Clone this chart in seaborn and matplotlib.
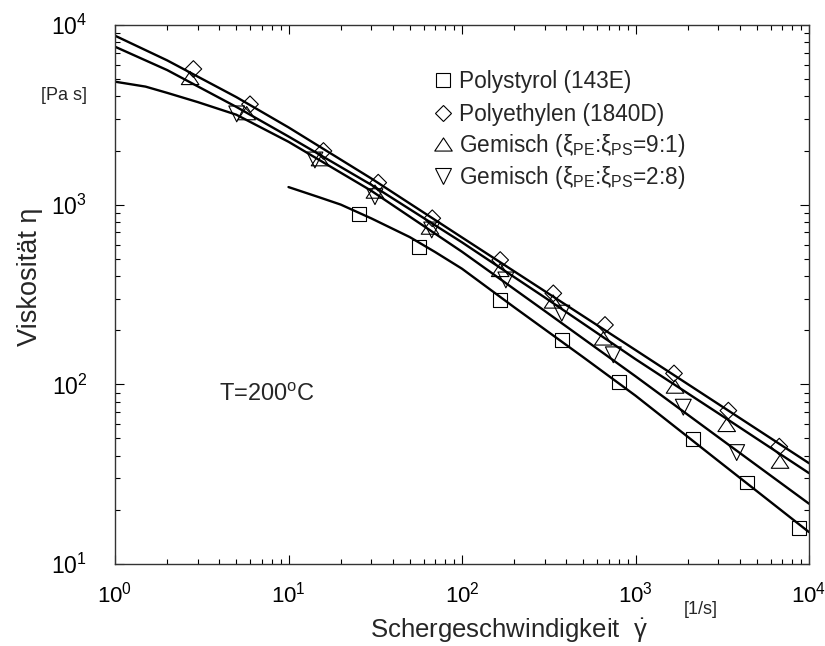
import numpy as np
import pandas as pd
import matplotlib
matplotlib.use("Agg")
import matplotlib.pyplot as plt
import seaborn as sns
from matplotlib.lines import Line2D
from matplotlib.path import Path
from matplotlib.markers import MarkerStyle

# ---------------- data ----------------
# measured points
ps_x = [25.5, 56.5, 166, 376, 803, 2140, 4380, 8790]
ps_y = [888, 579, 295, 177, 103.5, 49.5, 28.4, 15.8]

pe_x = [2.83, 6.0, 15.9, 32.9, 67.4, 166, 336, 667, 1667, 3430, 6740]
pe_y = [5690, 3620, 1990, 1326, 840, 492, 321, 214, 115, 71.4, 45.0]

m91_x = [2.71, 5.74, 15.2, 31.5, 65.4, 166, 335, 652, 1690, 3355, 6810]
m91_y = [5070, 3230, 1790, 1182, 745, 433, 289, 180, 97.1, 59.4, 37.1]

m28_x = [5.03, 14.2, 31.5, 66.9, 179, 376, 745, 1886, 3830]
m28_y = [3200, 1773, 1108, 723, 381, 249, 146, 74.6, 41.7]

# fitted curves
fit_pe_x = [1, 2, 5, 10, 30, 100, 300, 1000, 3000, 10000]
fit_pe_y = [8720, 6353, 3971, 2693, 1399, 657, 330, 155.2, 77.7, 36.4]

fit_91_x = [1, 2, 5, 10, 30, 100, 300, 1000, 3000, 10000]
fit_91_y = [7572, 5610, 3502, 2396, 1290, 617, 304.5, 138.1, 69.0, 32.05]

fit_28_x = [1, 1.5, 2, 3, 5, 10, 30, 100, 300, 1000, 3000, 10000]
fit_28_y = [4836, 4540, 4190, 3723, 3168, 2239, 1195, 547, 256, 110.9, 50.8, 21.66]

fit_ps_x = [10, 15, 20, 30, 50, 70, 100, 200, 500, 1000, 3000, 10000]
fit_ps_y = [1253, 1100, 1001, 839, 660, 545, 440, 268.5, 141.5, 86.5, 37.5, 15.05]

labels = [
    "Polystyrol (143E)",
    "Polyethylen (1840D)",
    r"Gemisch ($\xi_{PE}$:$\xi_{PS}$=9:1)",
    r"Gemisch ($\xi_{PE}$:$\xi_{PS}$=2:8)",
]

# ---------------- style ----------------
sns.set_style("ticks")
plt.rcParams["font.family"] = ["Liberation Sans", "DejaVu Sans"]
plt.rcParams.update({
    "mathtext.fontset": "custom",
    "mathtext.rm": "Liberation Sans",
    "mathtext.it": "Liberation Sans:italic",
    "mathtext.bf": "Liberation Sans:bold",
    "mathtext.default": "regular",
})

fig = plt.figure(figsize=(8.25, 6.46), dpi=100)
ax = fig.add_axes([115 / 825, 1 - 564 / 646, (809 - 115) / 825, (564 - 25) / 646])

# markers
up_path = Path([(-1, -0.75), (1, -0.75), (0, 0.75), (-1, -0.75)], closed=True)
up_marker = MarkerStyle(up_path)
mk = dict(square=("s", 100, 10), diamond=("D", 72, 8.5), up=(up_marker, 160, 12.6), down=("v", 130, 11.4))

# fitted lines
for fx, fy in [(fit_pe_x, fit_pe_y), (fit_91_x, fit_91_y), (fit_28_x, fit_28_y), (fit_ps_x, fit_ps_y)]:
    df = pd.DataFrame({"x": fx, "y": fy})
    sns.lineplot(data=df, x="x", y="y", ax=ax, color="black", linewidth=1.7,
                 estimator=None, sort=False)

# measured points
series = [(ps_x, ps_y, "square"), (pe_x, pe_y, "diamond"), (m91_x, m91_y, "up"), (m28_x, m28_y, "down")]
for sx, sy, key in series:
    m, s, _ = mk[key]
    df = pd.DataFrame({"x": sx, "y": sy})
    sns.scatterplot(data=df, x="x", y="y", ax=ax, marker=m, s=s,
                    facecolor="none", edgecolor="black", linewidth=0.8, zorder=3)

ax.set_xscale("log")
ax.set_yscale("log")
ax.set_xlim(1, 1e4)
ax.set_ylim(10, 1e4)
ax.set_xlabel("")
ax.set_ylabel("")

ax.tick_params(which="both", direction="in", top=True, right=True, width=0.8, colors="black")
ax.tick_params(which="major", length=6.5)
ax.tick_params(which="minor", length=3.5)
ax.tick_params(axis="x", which="major", labelsize=16, pad=13)
ax.tick_params(axis="y", which="major", labelsize=16.5, pad=20)
for sp in ax.spines.values():
    sp.set_linewidth(1.0)
    sp.set_color("#333333")

# legend (two blocks so the rows with subscripts keep the same pitch)
handles = []
for key in ["square", "diamond", "up", "down"]:
    m, _, ms = mk[key]
    handles.append(Line2D([], [], ls="none", marker=m, ms=ms, mfc="none", mec="black", mew=0.8))
leg_kw = dict(loc="upper left", bbox_transform=fig.transFigure, frameon=False, fontsize=16.3,
              handlelength=0.95, handletextpad=0.25, borderpad=0, borderaxespad=0)
leg1 = ax.legend(handles[:2], labels[:2], bbox_to_anchor=(432 / 825, 1 - 70 / 646),
                 labelspacing=0.42, **leg_kw)
ax.add_artist(leg1)
ax.legend(handles[2:], labels[2:], bbox_to_anchor=(432 / 825, 1 - 132 / 646),
          labelspacing=0.2, **leg_kw)

# texts
fig.text(509 / 825, 1 - 630 / 646, r"Schergeschwindigkeit  $\dot{\gamma}$", fontsize=18.5,
         ha="center", va="center")
fig.text(30 / 825, 1 - 277 / 646, "Viskosität η", fontsize=19.5, rotation=90,
         ha="center", va="center")
fig.text(64 / 825, 1 - 95 / 646, "[Pa s]", fontsize=13, ha="center", va="center")
fig.text(701 / 825, 1 - 609 / 646, "[1/s]", fontsize=13, ha="center", va="center")
fig.text(267 / 825, 1 - 395 / 646, r"T=200$^{o}$C", fontsize=17, ha="center", va="center")

fig.savefig("out.png", dpi=100)
